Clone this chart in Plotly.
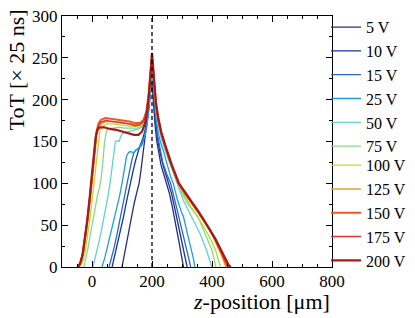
import plotly.graph_objects as go

voltages = ["5 V", "10 V", "15 V", "25 V", "50 V", "75 V", "100 V", "125 V", "150 V", "175 V", "200 V"]
colors = ["#2c2a7c", "#17339a", "#2a68c2", "#1e9ee0", "#62d4c8", "#8cd88a",
          "#b7dc2c", "#dca336", "#ee5a1e", "#e2373a", "#a51a1a"]
widths = [1.3, 1.3, 1.3, 1.3, 1.3, 1.3, 1.3, 1.5, 2.0, 1.6, 2.2]

z5 = [100,108,115,122,130,140,150,157,163,168,173,178,184,190,195,198,200,202,205,210,216,222,230,240,249,258,266,273,282,290,296,301,305]
t5 = [0,15,30,45,60,75,90,100,115,130,145,160,175,190,205,215,222,212,195,170,150,138,122,110,100,88,75,60,45,30,20,8,0]

z10 = [67,75,85,95,105,115,127,137,145,152,160,168,176,184,191,196,200,203,207,212,218,225,235,247,257,265,273,282,290,299,307,313,317]
t10 = [0,12,28,45,60,78,100,115,127,137,145,152,162,178,198,215,228,215,195,175,155,140,124,110,100,88,75,60,47,33,20,8,0]

z15 = [57,65,75,85,95,105,117,125,133,140,148,157,166,175,183,190,195,200,203,207,212,218,226,236,248,262,276,290,303,317,324,329]
t15 = [0,10,25,42,58,78,100,115,128,137,140,142,146,155,170,190,212,232,220,200,178,158,142,125,112,100,80,60,40,20,8,0]

z25 = [33,42,52,62,72,82,92,100,108,115,122,130,138,146,155,165,175,183,190,195,200,204,208,214,221,229,237,250,262,271,285,298,305,318,332,338,343]
t25 = [0,10,25,40,55,68,85,100,118,132,137,138,136,140,142,147,155,168,190,212,236,222,200,178,160,148,140,122,108,100,80,66,60,40,20,10,0]

z50 = [3,12,22,32,42,52,60,67,73,78,84,90,96,102,112,125,140,155,165,175,183,190,195,200,204,208,214,222,232,245,258,270,282,293,304,318,332,346,360,371,382,392,399]
t50 = [0,12,28,45,62,82,100,120,138,150,151,150,156,160,161,162,164,165,167,172,182,198,218,240,225,205,185,168,152,138,125,112,100,90,80,70,60,50,40,30,20,8,0]

z75 = [-27,-20,-12,-5,2,10,18,25,30,36,42,48,55,70,90,110,130,150,165,175,183,190,195,200,204,208,214,222,232,245,258,270,285,300,320,340,353,365,377,390,400,408,413]
t75 = [0,10,25,40,55,70,85,95,105,125,150,162,165,166,167,166,166,166,168,172,182,200,220,243,228,208,188,170,155,140,126,114,100,88,75,65,60,50,40,30,20,8,0]

z100 = [-38,-30,-22,-14,-6,2,8,14,20,26,35,50,70,90,110,130,150,165,175,183,190,195,200,204,208,214,222,232,245,258,270,288,310,330,350,368,385,400,412,421,428]
t100 = [0,8,20,38,60,85,105,125,148,162,168,171,171,170,169,168,168,170,174,184,202,225,246,230,210,190,172,157,142,128,116,100,84,72,61,51,40,30,20,8,0]

z125 = [-44,-36,-28,-20,-12,-4,4,10,16,24,35,50,70,90,110,130,150,165,175,183,190,195,200,204,208,214,222,232,245,258,268,288,310,330,350,368,385,400,415,428,438,446]
t125 = [0,6,18,38,62,88,115,138,158,168,172,174,174,173,172,171,170,172,176,186,204,228,248,232,212,192,174,159,144,130,120,101,87,77,67,58,48,39,28,17,8,0]

z150 = [-45,-37,-29,-21,-13,-5,3,9,15,22,30,45,65,85,105,125,145,160,172,181,188,194,198,200,203,207,213,221,231,243,256,266,288,310,330,350,370,390,410,428,442,452]
t150 = [0,6,18,38,62,88,115,140,162,172,176,178,177,176,175,174,172,172,176,186,204,228,248,254,240,218,195,176,160,146,130,121,100,88,78,68,58,46,34,20,8,0]

z175 = [-46,-38,-30,-22,-14,-6,2,8,14,21,30,45,65,85,105,125,145,160,172,181,188,194,198,200,203,207,213,221,231,243,256,266,288,310,330,350,370,390,410,428,443,454]
t175 = [0,6,18,38,62,88,115,138,158,169,173,175,174,173,172,171,169,170,174,184,202,226,246,251,238,216,194,175,159,145,130,121,100,88,78,68,58,46,34,20,8,0]

z200 = [-48,-40,-32,-24,-16,-8,0,6,12,18,25,40,60,80,100,120,140,155,167,177,185,191,196,200,203,207,213,221,231,243,256,266,290,312,332,352,372,392,412,430,445,456,463]
t200 = [0,4,14,32,55,82,110,135,155,164,167,167,165,164,162,160,158,158,162,172,188,210,235,256,242,220,197,178,161,147,132,122,100,88,78,68,57,45,33,20,9,2,0]

zs = [z5, z10, z15, z25, z50, z75, z100, z125, z150, z175, z200]
ts = [t5, t10, t15, t25, t50, t75, t100, t125, t150, t175, t200]

center_z = [200, 200]
center_t = [0, 300]

x_title = "<i>z</i>-position [μm]"
y_title = "ToT [× 25 ns]"

FONT = "Liberation Serif"

fig = go.Figure()
for i, (v, x, y) in enumerate(zip(voltages, zs, ts)):
    fig.add_trace(go.Scatter(x=x, y=y, mode="lines", name=v,
                             legend="legend" if i < 6 else "legend2",
                             line=dict(color=colors[i], width=widths[i])))
fig.add_trace(go.Scatter(x=center_z, y=center_t, mode="lines", showlegend=False,
                         line=dict(color="black", width=1.3, dash="4px,3px")))

axis_common = dict(showline=True, linecolor="black", linewidth=1.3, mirror="allticks",
                   ticks="inside", ticklen=6, tickwidth=1.2, tickcolor="black",
                   showgrid=False, zeroline=False, automargin=False,
                   tickfont=dict(family=FONT, size=17, color="black"))

legend_common = dict(xanchor="left", yref="container", yanchor="top",
                     font=dict(family=FONT, size=16, color="black"),
                     bgcolor="rgba(0,0,0,0)", borderwidth=0)

fig.update_layout(
    width=415, height=318,
    margin=dict(l=62, r=83, t=16, b=51, autoexpand=False),
    paper_bgcolor="white", plot_bgcolor="white",
    font=dict(family=FONT, size=17, color="black"),
    showlegend=True,
    legend=dict(x=0.978, y=0.99 - 7 / 318, **legend_common),
    legend2=dict(x=0.978, y=0.99 - 145 / 318, **legend_common),
)
fig.update_xaxes(range=[-100, 800], dtick=200, tick0=0, ticklabelstandoff=-2,
                 minor=dict(dtick=50, ticklen=3, ticks="inside", tickcolor="black", tickwidth=1.2),
                 **axis_common)
fig.update_yaxes(range=[0, 300], dtick=50,
                 minor=dict(dtick=25, ticklen=3, ticks="inside", tickcolor="black", tickwidth=1.2),
                 **axis_common)

fig.add_annotation(text=x_title, xref="paper", yref="paper", x=1.0, xanchor="right",
                   y=(267 - 302) / 251, yanchor="middle", showarrow=False,
                   font=dict(family=FONT, size=22, color="black"))
fig.add_annotation(text=y_title, xref="paper", yref="paper", x=(16 - 62) / 270, xanchor="center",
                   y=(267 - 8) / 251, yanchor="top", textangle=-90, showarrow=False,
                   font=dict(family=FONT, size=22, color="black"))

fig.write_html("out.html", config={"displayModeBar": False},
               post_script="document.body.style.margin='0px';")
